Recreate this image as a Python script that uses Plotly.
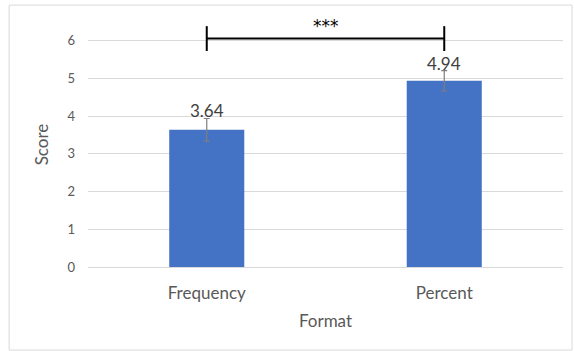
import plotly.graph_objects as go

categories = ["Frequency", "Percent"]
scores = [3.64, 4.94]
errors = [0.30, 0.27]
labels = ["3.64", "4.94"]
y_ticks = [0, 1, 2, 3, 4, 5, 6]
bracket_y = 6.06
bracket_tick = 0.33
sig_text = "***"

FONT = "Lato"
GRAY = "#595959"

fig = go.Figure()
fig.add_trace(go.Bar(
    x=categories, y=scores, width=0.316,
    marker=dict(color="#4472C4", line=dict(width=0)),
    error_y=dict(type="data", array=errors, visible=True,
                 color="#7f7f7f", thickness=1.2, width=3),
    hoverinfo="skip", showlegend=False,
))
for cat, s, e, lab in zip(categories, scores, errors, labels):
    fig.add_annotation(x=cat, y=s + e, xref="x", yref="y", text=lab,
                       showarrow=False, yanchor="bottom", yshift=-5,
                       font=dict(family=FONT, size=17, color="#404040"))

# significance bracket
fig.add_shape(type="line", xref="x", yref="y", x0=0, x1=1, y0=bracket_y, y1=bracket_y,
              line=dict(color="black", width=2))
for xi in (0, 1):
    fig.add_shape(type="line", xref="x", yref="y", x0=xi, x1=xi,
                  y0=bracket_y - bracket_tick, y1=bracket_y + bracket_tick,
                  line=dict(color="black", width=2))
fig.add_annotation(x=0.5, y=bracket_y, xref="x", yref="y", text=sig_text,
                   showarrow=False, yanchor="bottom", yshift=1,
                   font=dict(family="DejaVu Sans", size=17, color="black"))

# outer border
fig.add_shape(type="rect", xref="paper", yref="paper", x0=-0.166, x1=1.019,
              y0=-0.339, y1=1.069, line=dict(color="#d9d9d9", width=1))

fig.update_layout(
    width=574, height=351,
    margin=dict(l=88, r=11, t=22, b=84),
    paper_bgcolor="white", plot_bgcolor="white",
    font=dict(family=FONT, color=GRAY),
)
fig.update_xaxes(
    automargin=False,
    showline=False, showgrid=False, ticks="",
    tickfont=dict(family=FONT, size=17, color=GRAY),
    ticklabelstandoff=14,
    title=dict(text="Format", font=dict(family=FONT, size=17, color=GRAY), standoff=13),
)
fig.update_yaxes(
    automargin=False,
    range=[0, 6.5], tickvals=y_ticks, showline=False,
    showgrid=True, gridcolor="#d9d9d9", gridwidth=1,
    zeroline=True, zerolinecolor="#d9d9d9", zerolinewidth=1,
    tickfont=dict(family=FONT, size=13, color=GRAY),
    ticklabelstandoff=12,
    title=dict(text="Score", font=dict(family=FONT, size=17, color=GRAY), standoff=14),
)

fig.write_html("out.html", config={"displayModeBar": False},
               post_script="document.body.style.margin='0';")
